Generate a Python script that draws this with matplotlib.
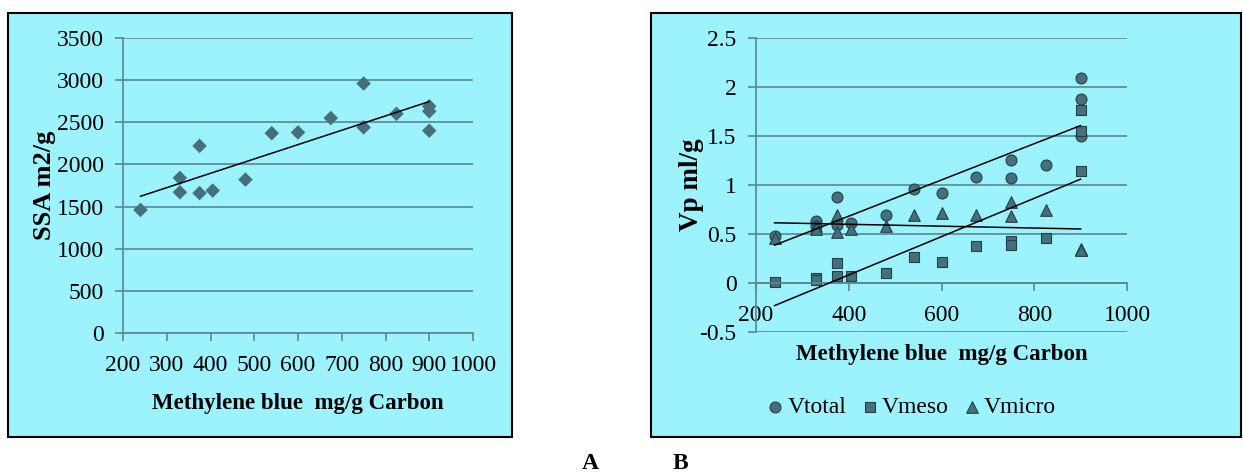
import matplotlib.pyplot as plt
import numpy as np
from matplotlib.patches import Rectangle

# Panel A: SSA vs methylene blue number
mb_a = [240, 330, 330, 375, 375, 405, 480, 540, 600, 675, 750, 750, 825, 900, 900, 900]
ssa = [1460, 1840, 1670, 2220, 1660, 1690, 1820, 2370, 2380, 2550, 2960, 2440, 2600, 2690, 2630, 2400]

# Panel B: pore volumes vs methylene blue number
mb_b = [240, 330, 330, 375, 375, 405, 480, 540, 600, 675, 750, 750, 825, 900, 900, 900]
v_total = [0.48, 0.63, 0.58, 0.88, 0.59, 0.61, 0.69, 0.96, 0.92, 1.08, 1.25, 1.07, 1.20, 2.09, 1.88, 1.50]
v_meso = [0.01, 0.05, 0.03, 0.20, 0.07, 0.07, 0.10, 0.27, 0.21, 0.38, 0.43, 0.39, 0.46, 1.77, 1.55, 1.14]
v_micro = [0.46, 0.58, 0.55, 0.69, 0.52, 0.55, 0.58, 0.69, 0.71, 0.69, 0.83, 0.68, 0.74, 0.35, 0.34, 0.34]

BG = "#9cf3fe"
GRID = "#5a8890"
MARK = "#467079"
EDGE = "#23414a"
FONT = "Liberation Serif"

plt.rcParams["font.family"] = FONT

fig = plt.figure(figsize=(12.43, 4.73), dpi=100)
W, H = 1243, 473

def box(x0, y0, x1, y1):
    fig.patches.append(Rectangle((x0 / W, 1 - y1 / H), (x1 - x0) / W, (y1 - y0) / H,
                                 transform=fig.transFigure, facecolor=BG,
                                 edgecolor="black", linewidth=1.5, zorder=-5))

box(8, 13, 512, 437)
box(651, 13, 1241, 437)

def style(ax):
    ax.set_facecolor(BG)
    for s in ["top", "right"]:
        ax.spines[s].set_visible(False)
    for s in ["left", "bottom"]:
        ax.spines[s].set_color(GRID)
        ax.spines[s].set_linewidth(1.2)
    ax.yaxis.grid(True, color=GRID, linewidth=1.2)
    ax.set_axisbelow(True)
    ax.tick_params(colors=GRID, labelcolor="black", labelsize=17, length=6, width=1.2)
    ax.tick_params(axis="y", pad=8)

def trend(ax, x, y):
    k, b = np.polyfit(x, y, 1)
    xs = np.array([min(x), max(x)])
    ax.plot(xs, k * xs + b, color="black", linewidth=1.1, zorder=3)

# ---- A ----
axA = fig.add_axes([123 / W, 1 - 333 / H, 350 / W, 295 / H])
style(axA)
axA.set_xlim(200, 1000)
axA.set_ylim(0, 3500)
axA.set_xticks(range(200, 1001, 100))
axA.set_yticks(range(0, 3501, 500))
axA.scatter(mb_a, ssa, marker="D", s=55, color=MARK, edgecolors="none", zorder=2)
trend(axA, mb_a, ssa)
axA.tick_params(axis="x", pad=10)
axA.set_xlabel("Methylene blue  mg/g Carbon", fontsize=16.5, fontweight="bold", labelpad=12)
axA.set_ylabel("SSA m2/g", fontsize=19, fontweight="bold", labelpad=0)

# ---- B ----
axB = fig.add_axes([756 / W, 1 - 332 / H, 371 / W, 294 / H])
style(axB)
axB.set_xlim(200, 1000)
axB.set_ylim(-0.5, 2.5)
axB.set_xticks(range(200, 1001, 200))
axB.set_yticks(np.arange(-0.5, 2.51, 0.5))
axB.set_yticklabels(["-0.5", "0", "0.5", "1", "1.5", "2", "2.5"])
axB.spines["bottom"].set_position(("data", 0))
axB.spines["left"].set_bounds(-0.5, 2.5)
axB.tick_params(axis="x", pad=10)
axB.scatter(mb_b, v_total, marker="o", s=62, color=MARK, edgecolors=EDGE, linewidths=0.8, zorder=2, label="Vtotal")
axB.scatter(mb_b, v_meso, marker="s", s=55, color=MARK, edgecolors=EDGE, linewidths=0.8, zorder=2, label="Vmeso")
axB.scatter(mb_b, v_micro, marker="^", s=70, color=MARK, edgecolors=EDGE, linewidths=0.8, zorder=2, label="Vmicro")
trend(axB, mb_b, v_total)
trend(axB, mb_b, v_meso)
trend(axB, mb_b, v_micro)
axB.set_xlabel("Methylene blue  mg/g Carbon", fontsize=16.5, fontweight="bold", labelpad=13)
axB.set_ylabel("Vp ml/g", fontsize=19.5, fontweight="bold", labelpad=-3.5)
axB.legend(loc="center", bbox_to_anchor=(911 / W, 1 - 407 / H), bbox_transform=fig.transFigure,
           ncol=3, frameon=False, fontsize=17, handletextpad=0.1, columnspacing=0.6,
           handlelength=0.8, markerscale=1.0)

fig.text(590 / W, 1 - 463 / H, "A", fontsize=17, fontweight="bold", ha="center", va="center")
fig.text(680 / W, 1 - 463 / H, "B", fontsize=17, fontweight="bold", ha="center", va="center")

fig.savefig("out.png", dpi=100)
